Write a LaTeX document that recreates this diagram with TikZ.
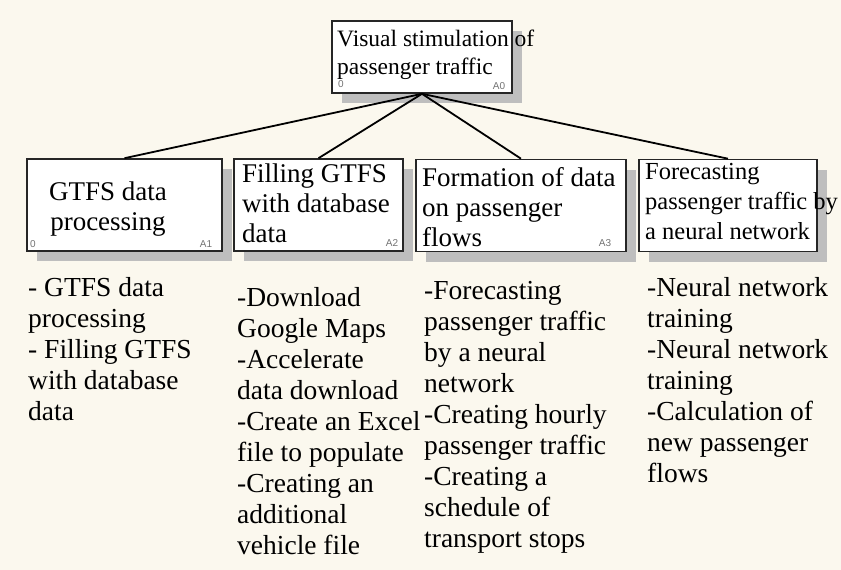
\documentclass[tikz,border=0pt]{standalone}
\usepackage{fontspec}
\setmainfont{Liberation Serif}
\setsansfont{Liberation Sans}
\usepackage{xcolor}
\usetikzlibrary{shadows}

\definecolor{paper}{RGB}{251,248,238}
\definecolor{shade}{RGB}{190,190,190}

\tikzset{
  fbox/.style={draw=black!85, line width=1.6pt, fill=white, inner sep=0pt,
    drop shadow={shadow xshift=10pt, shadow yshift=-10pt, fill=shade, opacity=1}},
  boxtext/.style={inner sep=0pt, align=left, font=\fontsize{27}{30}\selectfont},
  listtext/.style={inner sep=0pt, align=left, anchor=north west, font=\fontsize{27.5}{31}\selectfont},
  tag/.style={inner sep=0pt, text=black!55, font=\sffamily\fontsize{10}{12}\selectfont},
  link/.style={line width=1.8pt, black}
}

\begin{document}
\begin{tikzpicture}[x=1pt, y=-1pt]
                \fill[paper] (0, 0) rectangle (841, 570);
                \useasboundingbox (0, 0) rectangle (841, 570);

                % function boxes
                \node[fbox, minimum width=180pt, minimum height=72pt] (top) at (422, 57) {};
                \node[fbox, minimum width=195pt, minimum height=92pt] (a1) at (124.5, 205) {};
                \node[fbox, minimum width=169pt, minimum height=92pt] (a2) at (318.5, 205) {};
                \node[fbox, minimum width=210pt, minimum height=92pt] (a3) at (521, 205.5) {};
                \node[fbox, minimum width=178pt, minimum height=92pt] (a4) at (728, 205.5) {};

                \draw[link] (top.south) -- (a1.north);
                \draw[link] (top.south) -- (a2.north);
                \draw[link] (top.south) -- (a3.north);
                \draw[link] (top.south) -- (a4.north);

                % box titles
                \node[boxtext, anchor=north west, font=\fontsize{23.5}{28}\selectfont] (t0) at (337, 30)
                    {Visual stimulation of\\passenger traffic};
                \node[boxtext, anchor=north, align=center] (t1) at (108, 182) {GTFS data\\processing};
                \node[boxtext, anchor=north west] (t2) at (242, 164) {Filling GTFS\\with database\\data};
                \node[boxtext, anchor=north west] (t3) at (422, 167) {Formation of data\\on passenger\\flows};
                \node[boxtext, anchor=north west, font=\fontsize{24.5}{30}\selectfont] (t4) at (645, 163)
                    {Forecasting\\passenger traffic by\\a neural network};

                % corner tags
                \node[tag] (n0) at (341, 84) {0};
                \node[tag] (c0) at (499, 86) {A0};
                \node[tag] (n1) at (33, 244) {0};
                \node[tag] (c1) at (206, 244) {A1};
                \node[tag] (c2) at (392, 243) {A2};
                \node[tag] (c3) at (605, 243) {A3};

                % task lists
                \node[listtext] (l1) at (28, 277)
                    {- GTFS data\\processing\\- Filling GTFS\\with database\\data};
                \node[listtext] (l2) at (237, 287)
                    {-Download\\Google Maps\\-Accelerate\\data download\\-Create an Excel\\file to populate\\-Creating an\\additional\\vehicle file};
                \node[listtext] (l3) at (424, 281)
                    {-Forecasting\\passenger traffic\\by a neural\\network\\-Creating hourly\\passenger traffic\\-Creating a\\schedule of\\transport stops};
                \node[listtext] (l4) at (647, 277)
                    {-Neural network\\training\\-Neural network\\training\\-Calculation of\\new passenger\\flows};
            \end{tikzpicture}
\end{document}
